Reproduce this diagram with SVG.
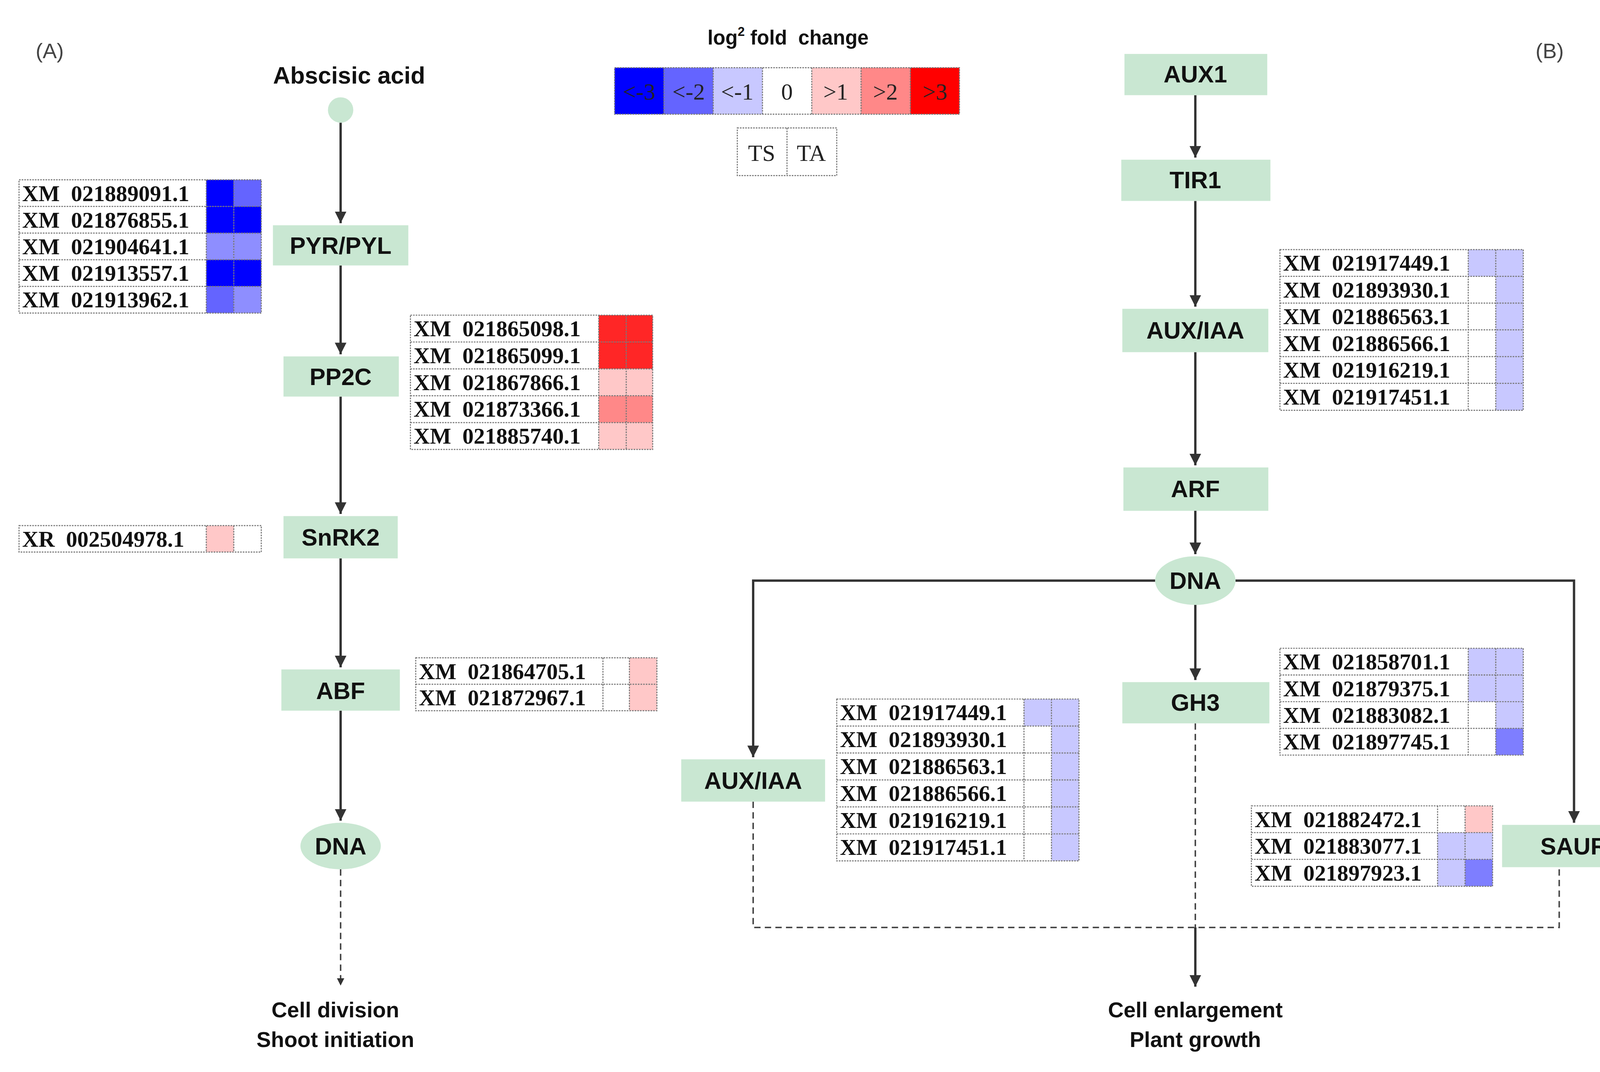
<svg xmlns="http://www.w3.org/2000/svg" width="4246" height="2745" viewBox="0 0 4246 2745" xml:space="preserve">
<style>
.node{fill:#C9E7D2}
.nt{font-family:"Liberation Sans",Arial,sans-serif;font-weight:bold;font-size:22.5px;fill:#111;text-anchor:middle}
.lbl{font-family:"Liberation Sans",Arial,sans-serif;font-size:20px;fill:#111;text-anchor:middle}
.tt{font-family:"Liberation Serif","Times New Roman",serif;font-weight:bold;font-size:21.3px;fill:#111;white-space:pre}
.grid{fill:none;stroke:#777;stroke-width:1;stroke-dasharray:1.5 1}
.edge{fill:none;stroke:#333;stroke-width:2.2}
.dash{fill:none;stroke:#444;stroke-width:1.4;stroke-dasharray:6 4}
.b3{fill:#0000FF}.b2{fill:#6464FF}.bm{fill:#8E8EFF}.b1{fill:#C8C8FF}.w{fill:#FFFFFF}
.r1{fill:#FFC8C8}.r2{fill:#FF8888}.r3{fill:#FF2626}
.lg{font-family:"Liberation Serif","Times New Roman",serif;font-size:22px;fill:#222;text-anchor:middle}
</style>
<defs>
<marker id="ah" viewBox="0 0 10 10" refX="10" refY="5" markerWidth="5" markerHeight="6" markerUnits="strokeWidth" orient="auto"><path d="M0,0 L10,5 L0,10 z" fill="#333"/></marker>
</defs>
<rect width="4246" height="2745" fill="#fff"/>
<g transform="scale(2.708)">
<text x="47" y="55" class="lbl" style="fill:#444">(A)</text>
<text x="1465" y="55" class="lbl" style="fill:#444">(B)</text>

<g id="legend">
<text x="745" y="42" class="nt" style="font-size:19px;white-space:pre">log<tspan dy="-8" font-size="12">2</tspan><tspan dy="8"> fold  change</tspan></text>
<rect x="581" y="64" width="46.6" height="44" class="b3"/>
<rect x="627.6" y="64" width="46.6" height="44" class="b2"/>
<rect x="674.2" y="64" width="46.6" height="44" class="b1"/>
<rect x="720.8" y="64" width="46.6" height="44" class="w"/>
<rect x="767.4" y="64" width="46.6" height="44" class="r1"/>
<rect x="814" y="64" width="46.6" height="44" class="r2"/>
<rect x="860.6" y="64" width="46.4" height="44" fill="#FF0000"/>
<rect x="581" y="64" width="326" height="44" class="grid"/>
<path d="M627.6,64V108M674.2,64V108M720.8,64V108M767.4,64V108M814,64V108M860.6,64V108" class="grid"/>
<text x="604" y="94" class="lg">&lt;-3</text><text x="651" y="94" class="lg">&lt;-2</text><text x="697" y="94" class="lg">&lt;-1</text><text x="744" y="94" class="lg">0</text><text x="790" y="94" class="lg">&gt;1</text><text x="837" y="94" class="lg">&gt;2</text><text x="884" y="94" class="lg">&gt;3</text>
<rect x="697" y="121" width="94" height="45" class="grid"/><path d="M744,121V166" class="grid"/>
<text x="720" y="152" class="lg">TS</text><text x="767" y="152" class="lg">TA</text>
</g>

<g id="connectors">
<path d="M322,116V211" class="edge" marker-end="url(#ah)"/>
<path d="M322,251V335" class="edge" marker-end="url(#ah)"/>
<path d="M322,375V486" class="edge" marker-end="url(#ah)"/>
<path d="M322,528V631" class="edge" marker-end="url(#ah)"/>
<path d="M322,672V776" class="edge" marker-end="url(#ah)"/>
<path d="M322,822V932" class="dash" marker-end="url(#ah)"/>
<path d="M1130,90V149" class="edge" marker-end="url(#ah)"/>
<path d="M1130,190V290" class="edge" marker-end="url(#ah)"/>
<path d="M1130,333V440" class="edge" marker-end="url(#ah)"/>
<path d="M1130,483V524" class="edge" marker-end="url(#ah)"/>
<path d="M1130,572V643" class="edge" marker-end="url(#ah)"/>
<path d="M1092,549H712V716" class="edge" marker-end="url(#ah)"/>
<path d="M1168,549H1488V778" class="edge" marker-end="url(#ah)"/>
<path d="M712,758V877H1474V820" class="dash"/>
<path d="M1130,684V877" class="dash"/>
<path d="M1130,877V933" class="edge" marker-end="url(#ah)"/>
</g>

<g id="abscisic"><text x="330" y="79" class="nt">Abscisic acid</text><circle cx="322" cy="104" r="12" class="node"/></g>
<g id="pyr"><rect x="258" y="213" width="128" height="38" class="node"/><text x="322" y="240" class="nt">PYR/PYL</text></g>
<g id="pp2c"><rect x="268" y="337" width="109" height="38" class="node"/><text x="322" y="364" class="nt">PP2C</text></g>
<g id="snrk2"><rect x="268" y="488" width="108" height="40" class="node"/><text x="322" y="516" class="nt">SnRK2</text></g>
<g id="abf"><rect x="266" y="633" width="112" height="39" class="node"/><text x="322" y="661" class="nt">ABF</text></g>
<g id="dnaA"><ellipse cx="322" cy="800" rx="38" ry="22" class="node"/><text x="322" y="808" class="nt">DNA</text></g>
<g id="outA"><text x="317" y="962" class="nt" style="font-size:20.5px">Cell division</text><text x="317" y="990" class="nt" style="font-size:20.5px">Shoot initiation</text></g>

<g id="aux1"><rect x="1063" y="51" width="135" height="39" class="node"/><text x="1130" y="78" class="nt">AUX1</text></g>
<g id="tir1"><rect x="1060" y="151" width="141" height="39" class="node"/><text x="1130" y="178" class="nt">TIR1</text></g>
<g id="auxiaa1"><rect x="1061" y="292" width="138" height="41" class="node"/><text x="1130" y="320" class="nt">AUX/IAA</text></g>
<g id="arf"><rect x="1062" y="442" width="137" height="41" class="node"/><text x="1130" y="470" class="nt">ARF</text></g>
<g id="dnaB"><ellipse cx="1130" cy="549" rx="38" ry="23" class="node"/><text x="1130" y="557" class="nt">DNA</text></g>
<g id="gh3"><rect x="1061" y="645" width="139" height="39" class="node"/><text x="1130" y="672" class="nt">GH3</text></g>
<g id="auxiaa2"><rect x="644" y="718" width="136" height="40" class="node"/><text x="712" y="746" class="nt">AUX/IAA</text></g>
<g id="saur"><rect x="1420" y="780" width="136" height="40" class="node"/><text x="1488" y="808" class="nt">SAUR</text></g>
<g id="outB"><text x="1130" y="962" class="nt" style="font-size:20.5px">Cell enlargement</text><text x="1130" y="990" class="nt" style="font-size:20.5px">Plant growth</text></g>

<g id="tab1">
<rect x="195" y="170" width="26" height="25.2" class="b3"/><rect x="221" y="170" width="26" height="25.2" class="b2"/>
<rect x="195" y="195.2" width="26" height="25.2" class="b3"/><rect x="221" y="195.2" width="26" height="25.2" class="b3"/>
<rect x="195" y="220.4" width="26" height="25.2" class="bm"/><rect x="221" y="220.4" width="26" height="25.2" class="bm"/>
<rect x="195" y="245.6" width="26" height="25.2" class="b3"/><rect x="221" y="245.6" width="26" height="25.2" class="b3"/>
<rect x="195" y="270.8" width="26" height="25.2" class="b2"/><rect x="221" y="270.8" width="26" height="25.2" class="bm"/>
<rect x="18" y="170" width="229" height="126" class="grid"/>
<path d="M18,195.2H247M18,220.4H247M18,245.6H247M18,270.8H247M195,170V296M221,170V296" class="grid"/>
<text x="21" y="190" class="tt">XM  021889091.1</text><text x="21" y="215.2" class="tt">XM  021876855.1</text><text x="21" y="240.4" class="tt">XM  021904641.1</text><text x="21" y="265.6" class="tt">XM  021913557.1</text><text x="21" y="290.8" class="tt">XM  021913962.1</text>
</g>

<g id="tab2">
<rect x="566" y="298" width="26" height="25.4" class="r3"/><rect x="592" y="298" width="25" height="25.4" class="r3"/>
<rect x="566" y="323.4" width="26" height="25.4" class="r3"/><rect x="592" y="323.4" width="25" height="25.4" class="r3"/>
<rect x="566" y="348.8" width="26" height="25.4" class="r1"/><rect x="592" y="348.8" width="25" height="25.4" class="r1"/>
<rect x="566" y="374.2" width="26" height="25.4" class="r2"/><rect x="592" y="374.2" width="25" height="25.4" class="r2"/>
<rect x="566" y="399.6" width="26" height="25.4" class="r1"/><rect x="592" y="399.6" width="25" height="25.4" class="r1"/>
<rect x="388" y="298" width="229" height="127" class="grid"/>
<path d="M388,323.4H617M388,348.8H617M388,374.2H617M388,399.6H617M566,298V425M592,298V425" class="grid"/>
<text x="391" y="318" class="tt">XM  021865098.1</text><text x="391" y="343.4" class="tt">XM  021865099.1</text><text x="391" y="368.8" class="tt">XM  021867866.1</text><text x="391" y="394.2" class="tt">XM  021873366.1</text><text x="391" y="419.6" class="tt">XM  021885740.1</text>
</g>

<g id="tab3">
<rect x="195" y="497" width="26" height="25" class="r1"/>
<rect x="18" y="497" width="229" height="25" class="grid"/><path d="M195,497V522M221,497V522" class="grid"/>
<text x="21" y="517" class="tt">XR  002504978.1</text>
</g>

<g id="tab4">
<rect x="595" y="622" width="26" height="25" class="r1"/><rect x="595" y="647" width="26" height="25" class="r1"/>
<rect x="393" y="622" width="228" height="50" class="grid"/><path d="M393,647H621M570,622V672M595,622V672" class="grid"/>
<text x="396" y="642" class="tt">XM  021864705.1</text><text x="396" y="667" class="tt">XM  021872967.1</text>
</g>

<g id="tab5">
<rect x="1388" y="236" width="26" height="25.3" class="b1"/><rect x="1414" y="236" width="26" height="152" class="b1"/>
<rect x="1210" y="236" width="230" height="152" class="grid"/>
<path d="M1210,261.3H1440M1210,286.6H1440M1210,311.9H1440M1210,337.2H1440M1210,362.5H1440M1388,236V388M1414,236V388" class="grid"/>
<text x="1213" y="256" class="tt">XM  021917449.1</text><text x="1213" y="281.3" class="tt">XM  021893930.1</text><text x="1213" y="306.6" class="tt">XM  021886563.1</text><text x="1213" y="331.9" class="tt">XM  021886566.1</text><text x="1213" y="357.2" class="tt">XM  021916219.1</text><text x="1213" y="382.5" class="tt">XM  021917451.1</text>
</g>

<g id="tab6">
<rect x="1388" y="613" width="26" height="50.5" class="b1"/><rect x="1414" y="613" width="26" height="75.75" class="b1"/><rect x="1414" y="688.75" width="26" height="25.25" fill="#7E7EFF"/>
<rect x="1210" y="613" width="230" height="101" class="grid"/>
<path d="M1210,638.25H1440M1210,663.5H1440M1210,688.75H1440M1388,613V714M1414,613V714" class="grid"/>
<text x="1213" y="633" class="tt">XM  021858701.1</text><text x="1213" y="658.25" class="tt">XM  021879375.1</text><text x="1213" y="683.5" class="tt">XM  021883082.1</text><text x="1213" y="708.75" class="tt">XM  021897745.1</text>
</g>

<g id="tab7">
<rect x="968" y="661" width="26" height="25.5" class="b1"/><rect x="994" y="661" width="26" height="153" class="b1"/>
<rect x="791" y="661" width="229" height="153" class="grid"/>
<path d="M791,686.5H1020M791,712H1020M791,737.5H1020M791,763H1020M791,788.5H1020M968,661V814M994,661V814" class="grid"/>
<text x="794" y="681" class="tt">XM  021917449.1</text><text x="794" y="706.5" class="tt">XM  021893930.1</text><text x="794" y="732" class="tt">XM  021886563.1</text><text x="794" y="757.5" class="tt">XM  021886566.1</text><text x="794" y="783" class="tt">XM  021916219.1</text><text x="794" y="808.5" class="tt">XM  021917451.1</text>
</g>

<g id="tab8">
<rect x="1385" y="762" width="26" height="25.3" class="r1"/>
<rect x="1359" y="787.3" width="26" height="50.7" class="b1"/><rect x="1385" y="787.3" width="26" height="25.3" class="b1"/><rect x="1385" y="812.6" width="26" height="25.4" fill="#7E7EFF"/>
<rect x="1183" y="762" width="228" height="76" class="grid"/>
<path d="M1183,787.3H1411M1183,812.6H1411M1359,762V838M1385,762V838" class="grid"/>
<text x="1186" y="782" class="tt">XM  021882472.1</text><text x="1186" y="807.3" class="tt">XM  021883077.1</text><text x="1186" y="832.6" class="tt">XM  021897923.1</text>
</g>
</g>
</svg>
